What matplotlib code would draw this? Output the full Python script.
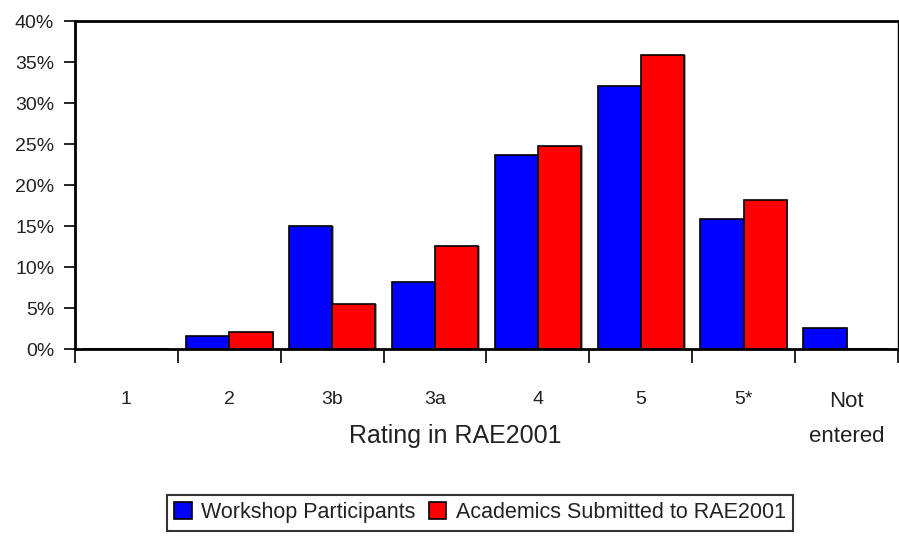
import numpy as np
import matplotlib.pyplot as plt
from matplotlib.ticker import FuncFormatter

plt.rcParams['font.family'] = ['Liberation Sans', 'DejaVu Sans']

# Data (percent)
ratings = ['1', '2', '3b', '3a', '4', '5', '5*', 'Not\nentered']
workshop = [0.0, 1.6, 15.0, 8.2, 23.6, 32.1, 15.8, 2.6]
academics = [0.0, 2.1, 5.5, 12.6, 24.8, 35.8, 18.2, 0.0]

fig = plt.figure(figsize=(8.99, 5.39), dpi=100)
ax = fig.add_axes([0.0834, 0.3525, 0.9155, 0.6085])

x = np.arange(len(ratings))
w = 0.42
ax.bar(x - w / 2 + 0.015, workshop, w, color='#9a9a9a', edgecolor='none', zorder=1)
ax.bar(x + w / 2 + 0.015, academics, w, color='#9a9a9a', edgecolor='none', zorder=1)
ax.bar(x - w / 2, workshop, w, color='#0000ff', edgecolor='black', linewidth=1.2,
       label='Workshop Participants', zorder=2)
ax.bar(x + w / 2, academics, w, color='#ff0000', edgecolor='black', linewidth=1.2,
       label='Academics Submitted to RAE2001', zorder=2)

ax.set_xlim(-0.5, len(ratings) - 0.5)
ax.set_ylim(0, 40)
ax.set_yticks(np.arange(0, 41, 5))
ax.yaxis.set_major_formatter(FuncFormatter(lambda v, p: f'{v:.0f}%'))

# boundary ticks as major, labels at centers as minor
ax.set_xticks(np.arange(-0.5, len(ratings), 1.0))
ax.set_xticklabels([])
ax.set_xticks(x, minor=True)
ax.set_xticklabels(ratings, minor=True)
ax.tick_params(axis='x', which='major', direction='out', length=10, width=1.2)
ax.tick_params(axis='x', which='minor', length=0, pad=30, labelsize=14, colors='#222222')
ax.tick_params(axis='y', direction='out', length=8, width=1.2, labelsize=14, pad=7,
               labelcolor='#222222')
last = ax.get_xticklabels(minor=True)[-1]
last.set_fontsize(16)
last.set_linespacing(1.9)

for s in ['left', 'bottom', 'top']:
    ax.spines[s].set_linewidth(2)
ax.spines['right'].set_linewidth(1)

ax.text(3.2, -10.6, 'Rating in RAE2001', ha='center', va='center', fontsize=18,
        color='#222222')

leg = fig.legend(loc='center', bbox_to_anchor=(480 / 899, 0.049), ncol=2, fontsize=15.5,
                 frameon=True, fancybox=False, edgecolor='black', handlelength=0.8,
                 handleheight=0.8, handletextpad=0.45, columnspacing=0.6,
                 borderpad=0.35, borderaxespad=0)
leg.get_frame().set_linewidth(1.5)
for t in leg.get_texts():
    t.set_color('#222222')

fig.savefig('out.png', dpi=100)
